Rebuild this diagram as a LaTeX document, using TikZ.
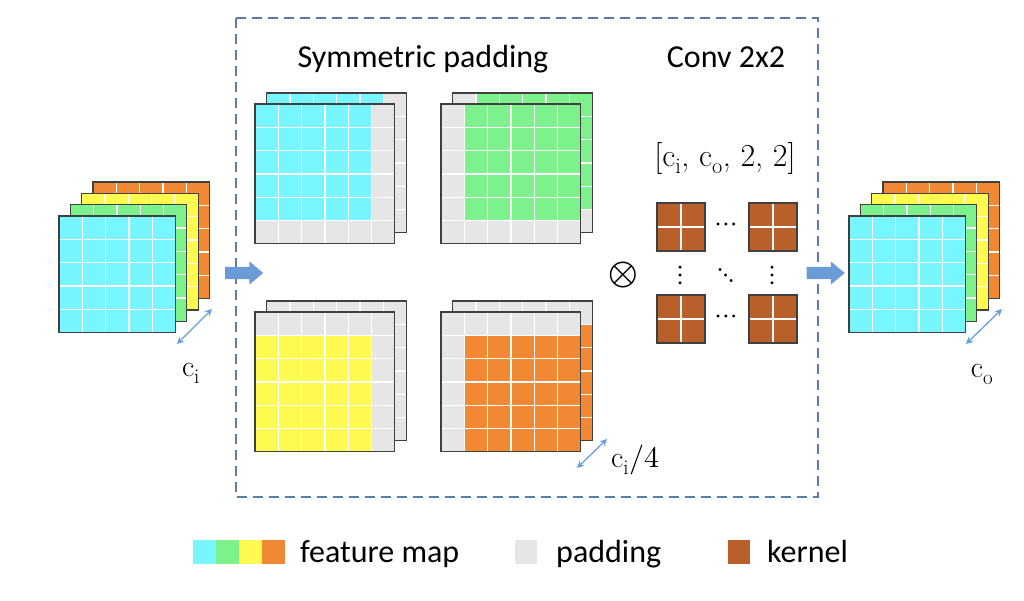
\documentclass[tikz,border=0pt]{standalone}
\usepackage{amsmath}
\usepackage{fontspec}
\usepackage{unicode-math}
\setmathfont{Latin Modern Math}
\newfontfamily\labelfont{Carlito}
\usetikzlibrary{arrows.meta}
\usetikzlibrary{shapes.arrows}
\usetikzlibrary{positioning}
\tikzset{>=Stealth}
\definecolor{fmcyan}{RGB}{120,246,255}
\definecolor{fmgreen}{RGB}{125,242,140}
\definecolor{fmyellow}{RGB}{255,250,80}
\definecolor{fmorange}{RGB}{240,136,52}
\definecolor{padgray}{RGB}{230,230,230}
\definecolor{kernelbrown}{RGB}{185,95,42}
\definecolor{flowblue}{RGB}{106,155,214}
\definecolor{dimblue}{RGB}{100,160,225}
\definecolor{boxblue}{RGB}{90,125,165}
\def\cell{23.3}
\newcommand{\fmlayer}[6]{% x, y, cells, colour, col offset, row offset
	\fill[padgray] (#1,#2) rectangle ++(#3*\cell,#3*\cell);
	\fill[#4] (#1+#5*\cell,#2+#6*\cell) rectangle ++(5*\cell,5*\cell);
	\pgfmathtruncatemacro{\nlast}{#3-1}
	\foreach \k in {1,...,\nlast}{
		\draw[gridline] (#1+\k*\cell,#2) -- ++(0,#3*\cell);
		\draw[gridline] (#1,#2+\k*\cell) -- ++(#3*\cell,0);
	}
	\draw[layerborder] (#1,#2) rectangle ++(#3*\cell,#3*\cell);
}
\newcommand{\fmstack}[2]{% four channels, front corner
	\fmlayer{#1+34}{#2-34}{5}{fmorange}{0}{0}
	\fmlayer{#1+22.6}{#2-22.6}{5}{fmyellow}{0}{0}
	\fmlayer{#1+11.3}{#2-11.3}{5}{fmgreen}{0}{0}
	\fmlayer{#1}{#2}{5}{fmcyan}{0}{0}
}
\newcommand{\padstack}[5]{% x, y, colour, col offset, row offset
	\fmlayer{#1+11.7}{#2-11}{6}{#3}{#4}{#5}
	\fmlayer{#1}{#2}{6}{#3}{#4}{#5}
}
\newcommand{\kernelbox}[2]{%
	\fill[kernelbrown] (#1,#2) rectangle ++(48,48);
	\draw[gridline] (#1+24,#2) -- ++(0,48);
	\draw[gridline] (#1,#2+24) -- ++(48,0);
	\draw[layerborder] (#1,#2) rectangle ++(48,48);
}

\begin{document}
\begin{tikzpicture}[x=1pt,y=-1pt,
	gridline/.style={white,line width=1.2pt},
	layerborder/.style={draw=black!75,line width=1.2pt},
	flowarrow/.style={single arrow,fill=flowblue,draw=none,minimum height=38pt,
		inner xsep=0pt,inner ysep=6pt,single arrow head extend=5.5pt,single arrow tip angle=80},
	dimarrow/.style={{Stealth[length=7pt,width=7pt]}-{Stealth[length=7pt,width=7pt]},dimblue,line width=1.3pt},
	sanslabel/.style={font=\labelfont\fontsize{32}{38}\selectfont,inner sep=0pt},
	mathlabel/.style={font=\fontsize{30}{34}\selectfont,inner sep=0pt},
	dotlabel/.style={font=\fontsize{28}{30}\selectfont,inner sep=0pt},
	swatch/.style={minimum width=23pt,minimum height=24pt,inner sep=0pt,outer sep=0pt}]
	\useasboundingbox (0,0) rectangle (1024,600);

	% dashed frame
	\coordinate (frame-nw) at (236,18);
	\coordinate (frame-se) at (818,497);
	\draw[boxblue,line width=1.8pt,dash pattern=on 10pt off 6pt] (frame-nw) rectangle (frame-se);

	% input and output
	\fmstack{59}{216}
	\fmstack{849}{216}

	% padded maps
	\padstack{255}{104}{fmcyan}{0}{0}
	\padstack{441}{104}{fmgreen}{1}{0}
	\padstack{255}{312}{fmyellow}{0}{1}
	\padstack{441}{312}{fmorange}{1}{1}

	% kernels
	\kernelbox{657}{203}
	\kernelbox{749}{203}
	\kernelbox{657}{295}
	\kernelbox{749}{295}
	\node[dotlabel] (dots-h1) at (726,227) {$\cdots$};
	\node[dotlabel] (dots-h2) at (726,319) {$\cdots$};
	\node[dotlabel] (dots-v1) at (681,275) {$\vdots$};
	\node[dotlabel] (dots-v2) at (773,275) {$\vdots$};
	\node[dotlabel] (dots-d) at (726,275) {$\ddots$};
	\node[font=\fontsize{38}{40}\selectfont,inner sep=0pt] (otimes) at (623,275) {$\otimes$};

	% titles
	\node[sanslabel,anchor=base] (title-pad) at (423,67) {Symmetric padding};
	\node[sanslabel,anchor=base] (title-conv) at (726,67) {Conv 2x2};
	\node[mathlabel,font=\fontsize{32}{36}\selectfont,anchor=base] (kshape) at (725,166) {[$\mathrm{c_i}$, $\mathrm{c_o}$, 2, 2]};

	% flow arrows
	\node[flowarrow] (flowin) at (240.5,273) {};
	\node[flowarrow] (flowout) at (822,273) {};

	% channel sizes
	\coordinate (ci-a) at (177,344);
	\coordinate (ci-b) at (212,309);
	\draw[dimarrow] (ci-a) -- (ci-b);
	\node[mathlabel,anchor=base] (ci) at (191,376) {$\mathrm{c_i}$};
	\coordinate (cq-a) at (577,468);
	\coordinate (cq-b) at (607,439);
	\draw[dimarrow] (cq-a) -- (cq-b);
	\node[mathlabel,anchor=base west] (cq) at (611,467) {$\mathrm{c_i}/4$};
	\coordinate (co-a) at (966,344);
	\coordinate (co-b) at (1002,309);
	\draw[dimarrow] (co-a) -- (co-b);
	\node[mathlabel,anchor=base] (co) at (982,377) {$\mathrm{c_o}$};

	% legend
	\node[swatch,fill=fmcyan] (leg-cyan) at (204,552) {};
	\node[swatch,fill=fmgreen,right=0pt of leg-cyan] (leg-green) {};
	\node[swatch,fill=fmyellow,right=0pt of leg-green] (leg-yellow) {};
	\node[swatch,fill=fmorange,right=0pt of leg-yellow] (leg-orange) {};
	\node[sanslabel,anchor=base west] (leg-fm) at (300,562) {feature map};
	\node[swatch,fill=padgray,minimum width=22pt] (leg-pad) at (526,552) {};
	\node[sanslabel,anchor=base west] (leg-padtext) at (556,562) {padding};
	\node[swatch,fill=kernelbrown,minimum width=22pt] (leg-kernel) at (739,552) {};
	\node[sanslabel,anchor=base west] (leg-kerneltext) at (767,562) {kernel};
\end{tikzpicture}
\end{document}
